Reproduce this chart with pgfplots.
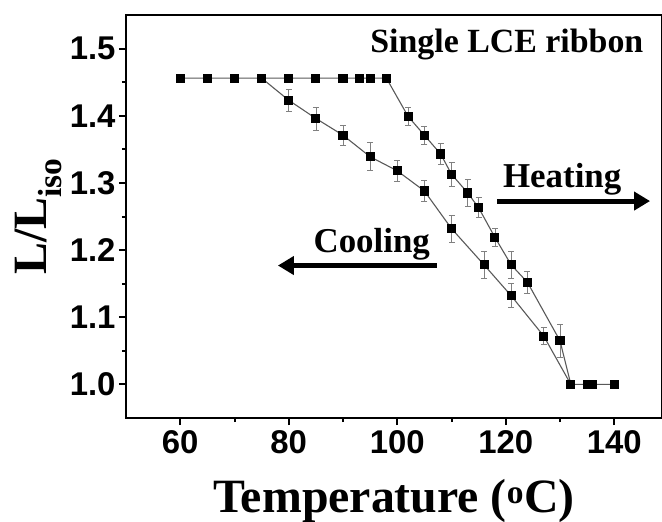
\documentclass[border=0pt]{standalone}
\usepackage{fontspec}
\setmainfont{Liberation Serif}
\newfontfamily\arial{Liberation Sans}
\usepackage{pgfplots}
\pgfplotsset{compat=1.18}
\usetikzlibrary{arrows.meta}

\pgfplotstableread{
x y e
60 1.456 0
65 1.456 0
70 1.456 0
75 1.456 0
80 1.456 0
85 1.456 0
90 1.456 0
93 1.456 0
95 1.456 0
98 1.456 0
102 1.399 0.013
105 1.371 0.013
108 1.343 0.016
110 1.313 0.018
113 1.285 0.02
115 1.263 0.015
118 1.219 0.014
121 1.178 0.02
124 1.152 0.016
130 1.065 0.025
132 1.000 0
135 1.000 0
136 1.000 0
140 1.000 0
}\heating

\pgfplotstableread{
x y e
75 1.456 0
80 1.423 0.017
85 1.396 0.017
90 1.371 0.015
95 1.339 0.021
100 1.318 0.016
105 1.288 0.016
110 1.232 0.02
116 1.178 0.02
121 1.132 0.018
127 1.072 0.013
132 1.000 0
}\cooling

\begin{document}
\begin{tikzpicture}
\path[use as bounding box] (-126bp,-104bp) rectangle (536bp,418bp);
\begin{axis}[
    scale only axis,
    width=536bp, height=403bp,
    xmin=50, xmax=148.8,
    ymin=0.95, ymax=1.55,
    xtick={60,80,...,140},
    ytick={1.0,1.1,...,1.5},
    minor x tick num=1,
    minor y tick num=1,
    xtick pos=bottom, ytick pos=left,
    tick align=outside,
    major tick length=7bp,
    minor tick length=4bp,
    axis line style={line width=2.4bp},
    every tick/.style={black, line width=2bp},
    ticklabel style={font=\arial\bfseries\fontsize{33}{35}\selectfont},
    /pgf/number format/assume math mode=true,
    yticklabel style={/pgf/number format/.cd, fixed, fixed zerofill, precision=1},
    xticklabel style={yshift=-2bp},
    xlabel={Temperature (\textsuperscript{o}C)},
    ylabel={L/L\textsubscript{iso}},
    label style={font=\bfseries\fontsize{48}{50}\selectfont},
    xlabel style={at={(axis description cs:0.5,-0.2333)}, anchor=base},
    ylabel style={at={(axis description cs:-0.1474,0.5)}, anchor=base},
    error bars/error bar style={gray, line width=0.7bp},
    error bars/error mark options={rotate=90, gray, mark size=3bp, line width=0.7bp},
]
\addplot[color=black!65, line width=1.1bp, mark=square*, mark size=4bp,
    mark options={black, solid},
    error bars/.cd, y dir=both, y explicit]
    table[x=x, y=y, y error=e] {\heating};
\addplot[color=black!65, line width=1.1bp, mark=square*, mark size=4bp,
    mark options={black, solid},
    error bars/.cd, y dir=both, y explicit]
    table[x=x, y=y, y error=e] {\cooling};

\node[anchor=base east, font=\bfseries\fontsize{34}{36}\selectfont]
    at (axis cs:146,1.494) {Single LCE ribbon};
\node[anchor=base, font=\bfseries\fontsize{35}{37}\selectfont]
    at (axis cs:130.4,1.293) {Heating};
\draw[line width=5bp, -{Triangle[length=16bp,width=18bp]}]
    (axis cs:118.4,1.273) -- (axis cs:146.6,1.273);
\node[anchor=base, font=\bfseries\fontsize{35}{37}\selectfont]
    at (axis cs:95.3,1.196) {Cooling};
\draw[line width=5bp, -{Triangle[length=16bp,width=18bp]}]
    (axis cs:107.3,1.177) -- (axis cs:78,1.177);
\end{axis}
\end{tikzpicture}
\end{document}
